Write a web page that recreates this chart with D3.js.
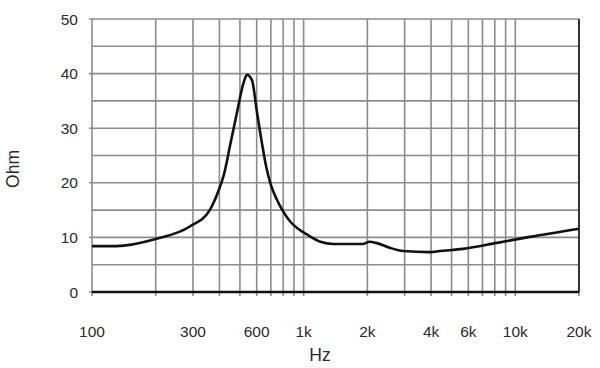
<!DOCTYPE html>
<html>
<head>
<meta charset="utf-8">
<script src="https://cdn.jsdelivr.net/npm/d3@7"></script>
<style>
  html, body { margin: 0; padding: 0; background: #fff; }
  svg { display: block; }
</style>
</head>
<body>
<div id="chart"></div>
<script>
(function () {
  'use strict';

  /* ---------- Data ---------- */
  const freqs = [100, 130, 200, 290, 360, 400, 420, 450, 485, 520, 540, 570, 600, 635, 665, 700, 750, 860, 990, 1050, 1200, 1380, 1900, 2050, 2200, 2550, 2950, 3950, 4400, 5650, 8200, 11700, 20000];
  const ohms  = [8.4, 8.4, 9.7, 12.0, 15.0, 19.0, 21.5, 27.0, 33.0, 38.3, 39.8, 38.8, 33.3, 27.3, 23.0, 19.6, 16.8, 13.0, 11.0, 10.4, 9.2, 8.8, 8.8, 9.2, 9.0, 8.1, 7.5, 7.3, 7.5, 7.9, 9.0, 10.1, 11.6];

  const xGrid = [100, 200, 300, 400, 500, 600, 700, 800, 900, 1000, 2000, 3000, 4000, 5000, 6000, 7000, 8000, 9000, 10000, 20000];
  const xTicks = [100, 300, 600, 1000, 2000, 4000, 6000, 10000, 20000];
  const xTickLabels = ['100', '300', '600', '1k', '2k', '4k', '6k', '10k', '20k'];
  const yGrid = [0, 5, 10, 15, 20, 25, 30, 35, 40, 45, 50];
  const yTicks = [0, 10, 20, 30, 40, 50];

  /* ---------- Size ---------- */
  const W = 600, H = 368;
  const m = { left: 92, right: 21, top: 19, bottom: 76 };

  const svg = d3.select('#chart').append('svg')
    .attr('width', W).attr('height', H);

  const x = d3.scaleLog().domain([100, 20000]).range([m.left, W - m.right]);
  const y = d3.scaleLinear().domain([0, 50]).range([H - m.bottom, m.top]);

  const font = "'Liberation Sans', Arial, sans-serif";

  /* ---------- Grid ---------- */
  const grid = svg.append('g').attr('stroke', '#8c8c8c').attr('stroke-width', 1.6);

  grid.selectAll('line.h')
    .data(yGrid)
    .join('line')
    .attr('class', 'h')
    .attr('x1', d => yTicks.includes(d) ? x(100) - 3 : x(100))
    .attr('x2', x(20000))
    .attr('y1', d => y(d)).attr('y2', d => y(d));

  grid.selectAll('line.v')
    .data(xGrid)
    .join('line')
    .attr('class', 'v')
    .attr('x1', d => x(d)).attr('x2', d => x(d))
    .attr('y1', y(50)).attr('y2', y(0) + 4);

  // right frame and bottom axis
  svg.append('line')
    .attr('x1', x(20000)).attr('x2', x(20000))
    .attr('y1', y(50)).attr('y2', y(0))
    .attr('stroke', '#333').attr('stroke-width', 2);

  svg.append('line')
    .attr('x1', x(100)).attr('x2', x(20000))
    .attr('y1', y(0)).attr('y2', y(0))
    .attr('stroke', '#111').attr('stroke-width', 2.6);

  /* ---------- Curve ---------- */
  const pts = freqs.map((f, i) => [f, ohms[i]]);
  const line = d3.line()
    .x(d => x(d[0]))
    .y(d => y(d[1]))
    .curve(d3.curveMonotoneX);

  svg.append('path')
    .datum(pts)
    .attr('d', line)
    .attr('fill', 'none')
    .attr('stroke', '#111')
    .attr('stroke-width', 2.6)
    .attr('stroke-linejoin', 'round');

  /* ---------- Tick labels ---------- */
  svg.append('g').selectAll('text')
    .data(yTicks)
    .join('text')
    .attr('x', 78)
    .attr('y', d => y(d) + 5.5)
    .attr('text-anchor', 'end')
    .attr('font-family', font)
    .attr('font-size', '15.5px')
    .attr('fill', '#2a2a2a')
    .text(d => d);

  svg.append('g').selectAll('text')
    .data(xTicks)
    .join('text')
    .attr('x', d => x(d))
    .attr('y', 337)
    .attr('text-anchor', 'middle')
    .attr('font-family', font)
    .attr('font-size', '15.5px')
    .attr('fill', '#2a2a2a')
    .text((d, i) => xTickLabels[i]);

  /* ---------- Axis titles ---------- */
  svg.append('text')
    .attr('x', 320).attr('y', 361)
    .attr('text-anchor', 'middle')
    .attr('font-family', font)
    .attr('font-size', '17.5px')
    .attr('fill', '#2a2a2a')
    .text('Hz');

  svg.append('text')
    .attr('transform', 'translate(19,169) rotate(-90)')
    .attr('text-anchor', 'middle')
    .attr('font-family', font)
    .attr('font-size', '17.5px')
    .attr('fill', '#2a2a2a')
    .text('Ohm');
})();
</script>
</body>
</html>
